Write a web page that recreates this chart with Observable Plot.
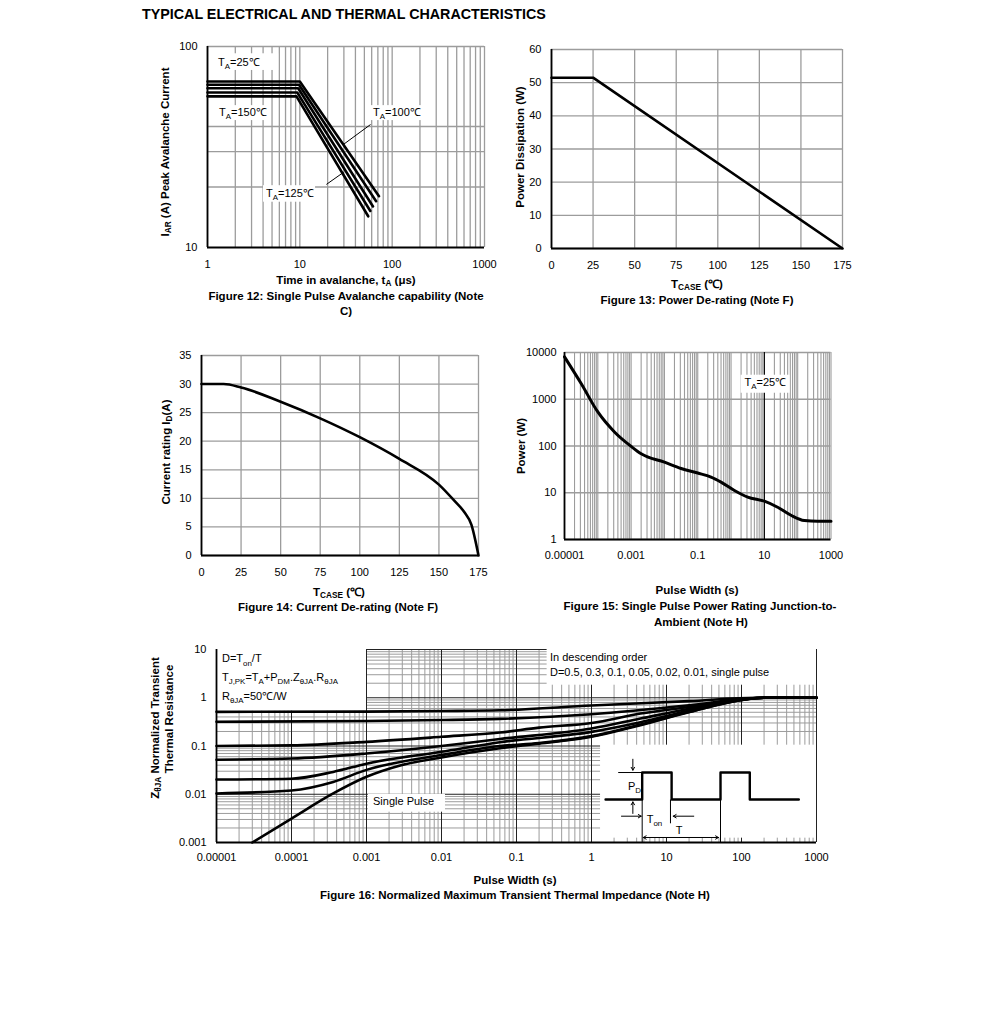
<!DOCTYPE html>
<html><head><meta charset="utf-8">
<script src="https://cdn.jsdelivr.net/npm/d3@7"></script>
<script src="https://cdn.jsdelivr.net/npm/@observablehq/plot@0.6"></script>
<style>
body{margin:0;background:#fff;}
#page{position:relative;width:991px;height:1021px;background:#fff;font-family:"Liberation Sans",Arial,Helvetica,sans-serif;color:#000;overflow:hidden;}
.abs{position:absolute;white-space:nowrap;line-height:1;}
.abs sub{font-size:0.72em;vertical-align:-0.22em;line-height:0;}
</style></head><body><div id="page"></div>
<script>
const FONT='"Liberation Sans", Arial, Helvetica, sans-serif';
const GRID="#9c9c9c";

// ---------------- Figure 12: Single pulse avalanche capability ----------------
const f12Lines=["L1","L2","L3","L4","L5"];
const f12Time=[[1,10,72],[1,9.8,67],[1,9.6,62],[1,9.4,58],[1,9.2,55]];
const f12Current=[[67,67,18],[64.5,64.5,17],[62,62,16],[59,59,15.2],[56.5,56.5,14.3]];
const f12XTicks=[1,10,100,1000];
const f12XTickLabels=["1","10","100","1000"];
const f12YTicks=[10,100];
const f12YTickLabels=["10","100"];
const f12YGrid=[20,30,40];
const f12LabelX=[1.315,1.35,62.8,4.36];
const f12LabelY=[79.6,44.9,44.9,17.7];
const f12LabelTemp=["25","150","100","125"];
const f12BoxX1=[1.124,1.124,58.3,4.04];
const f12BoxX2=[5.9,4.82,219,14.8];
const f12BoxY1=[76,42.8,42.8,16.8];
const f12BoxY2=[92,50.8,50.8,20.3];
const f12LeadX1=[58.3,19.4], f12LeadY1=[40.9,20.6], f12LeadX2=[29.5,29.9], f12LeadY2=[32.5,23.7];

// ---------------- Figure 13: Power de-rating ----------------
const f13Tcase=[0,25,175];
const f13Power=[51.5,51.5,0];
const f13XTicks=[0,25,50,75,100,125,150,175];
const f13YTicks=[0,10,20,30,40,50,60];

// ---------------- Figure 14: Current de-rating ----------------
const f14Tcase=[0,14,25,50,75,100,125,150,160,166,170.5,175];
const f14Current=[30,30,29.4,26.9,24.0,20.7,16.9,12.4,9.5,7.6,5.4,0];
const f14XTicks=[0,25,50,75,100,125,150,175];
const f14YTicks=[0,5,10,15,20,25,30,35];

// ---------------- Figure 15: Single pulse power rating ----------------
const f15Width=[1e-5,3.16e-5,1e-4,3.16e-4,1e-3,2e-3,1e-2,3.16e-2,0.1,0.25,0.5,1.26,3.16,10,25,63,158,400,1000];
const f15Power=[8070,2170,535,200,98,68,45,33,26.4,21.7,16.9,11.2,8.1,6.6,4.9,3.3,2.55,2.47,2.47];
const f15XTicks=[1e-5,1e-3,0.1,10,1000];
const f15XTickLabels=["0.00001","0.001","0.1","10","1000"];
const f15YTicks=[1,10,100,1000,10000];
const f15YTickLabels=["1","10","100","1000","10000"];

// ---------------- Figure 16: Normalized transient thermal impedance ----------------
const f16Duty=["0.5","0.3","0.1","0.05","0.02","0.01","single"];
const f16Width=[
 [1e-5,1e-3,1e-2,0.06,1,20,160,1000],
 [1e-5,1e-3,1e-2,0.06,1,20,130,200,1000],
 [1e-5,1e-4,1e-3,1e-2,0.06,0.2,1,4.5,21,100,200,1000],
 [1e-5,1e-4,1e-3,1e-2,0.06,1,4.5,21,100,200,1000],
 [1e-5,1e-4,3.6e-4,1e-3,1e-2,0.06,1,4.5,21,100,200,1000],
 [1e-5,1e-4,3.6e-4,1e-3,1e-2,0.06,0.2,1,4.5,21,100,200,1000],
 [3e-5,1e-4,3.6e-4,1e-3,2.9e-3,1e-2,0.06,0.2,1,4.5,21,100,200,1000]
];
const f16Z=[
 [0.51,0.515,0.53,0.55,0.69,0.85,1,1],
 [0.317,0.33,0.345,0.365,0.455,0.70,0.97,1,1],
 [0.1,0.103,0.122,0.155,0.19,0.24,0.3,0.47,0.65,0.92,1,1],
 [0.052,0.055,0.07,0.1,0.14,0.23,0.37,0.6,0.92,1,1],
 [0.0202,0.021,0.029,0.043,0.076,0.12,0.196,0.31,0.55,0.9,1,1],
 [0.0104,0.012,0.018,0.032,0.065,0.1,0.115,0.16,0.28,0.52,0.9,1,1],
 [0.001,0.00314,0.0104,0.023,0.04,0.058,0.09,0.112,0.155,0.27,0.51,0.9,1,1]
];
const f16XTicks=[1e-5,1e-4,1e-3,1e-2,0.1,1,10,100,1000];
const f16XTickLabels=["0.00001","0.0001","0.001","0.01","0.1","1","10","100","1000"];
const f16YTicks=[0.001,0.01,0.1,1,10];
const f16YTickLabels=["0.001","0.01","0.1","1","10"];
const f16BoxX1=[1e-5,0.256,1.06e-3,1.32], f16BoxX2=[1e-3,1000,0.0113,1000];
const f16BoxY1=[0.526,1.82,0.00425,0.00123], f16BoxY2=[10,10,0.01,0.104];
// pulse sketch (inset) in the chart's units
const f16PulseX=[1.54,4.74,4.74,11.7,11.7,52.5,52.5,129,129,581];
const f16PulseY=[0.00778,0.00778,0.0282,0.0282,0.00778,0.00778,0.0282,0.0282,0.00778,0.00778];
const f16ThinX1=[2.27,4.74,11.3,52.5], f16ThinY1=[0.0282,0.0282,0.00778,0.00778];
const f16ThinX2=[4.74,4.74,11.3,52.5], f16ThinY2=[0.0282,0.001,0.0025,0.001];
const f16ArrX1=[3.56,3.56,2.51,23.1,15,15], f16ArrY1=[0.0532,0.004,0.00351,0.00351,0.00127,0.00127];
const f16ArrX2=[3.56,3.56,4.6,12.3,4.9,49.3], f16ArrY2=[0.0315,0.00694,0.00351,0.00351,0.00127,0.00127];

// ---------------- helpers ----------------
const page=document.getElementById("page");
function logGrid(lo,hi){const out=[];const a=Math.round(Math.log10(lo)),b=Math.round(Math.log10(hi));for(let e=a;e<b;e++)for(let k=1;k<10;k++)out.push(+(k*Math.pow(10,e)).toPrecision(6));out.push(hi);return out;}
function isDecade(v){const l=Math.log10(v);return Math.abs(l-Math.round(l))<1e-9;}
function fmt(ticks,labels){const m=new Map(ticks.map((t,i)=>[t,labels[i]]));return d=>m.has(d)?m.get(d):"";}
function place(o){
  const mL=60,mT=12,mR=14,mB=30;
  const svg=Plot.plot({
    width:mL+o.fw+mR,height:mT+o.fh+mB,marginLeft:mL,marginRight:mR,marginTop:mT,marginBottom:mB,
    x:o.x,y:o.y,
    style:{fontFamily:FONT,fontSize:"11px",background:"transparent",overflow:"visible",color:"black"},
    marks:o.marks
  });
  svg.style.position="absolute";svg.style.left=(o.left-mL)+"px";svg.style.top=(o.top-mT)+"px";svg.style.maxWidth="none";
  page.appendChild(svg);
  return svg;
}
function rich(svg,items,size=11){
  const sx=svg.scale("x"),sy=svg.scale("y");
  const g=d3.select(svg).append("g").attr("font-family",FONT).attr("font-size",size).attr("fill","black");
  for(const it of items){
    const t=g.append("text").attr("x",sx.apply(it.x)).attr("y",sy.apply(it.y)).attr("text-anchor",it.anchor||"start");
    let shifted=0;
    for(const p of it.parts){
      const sub=p[1]==="sub";
      const want=sub?size*0.3:0;
      const ts=t.append("tspan").text(p[0]);
      if(want!==shifted)ts.attr("dy",want-shifted);
      if(sub)ts.attr("font-size",size*0.72);
      shifted=want;
    }
  }
}
function label(h,x,y,o={}){
  const d=document.createElement("div");d.className="abs";d.innerHTML=h;
  d.style.left=x+"px";d.style.top=y+"px";d.style.fontSize=(o.size||11.5)+"px";d.style.fontWeight=o.bold===false?"normal":"bold";
  d.style.transform=o.rot?"translate(-50%,-50%) rotate(-90deg)":(o.left?"translate(0,-50%)":"translate(-50%,-50%)");
  page.appendChild(d);
}
function series(names,xs,ys){const out=[];names.forEach((n,i)=>xs[i].forEach((x,j)=>out.push({s:n,x,y:ys[i][j]})));return out;}
function rows(cols){const keys=Object.keys(cols);return cols[keys[0]].map((_,i)=>Object.fromEntries(keys.map(k=>[k,cols[k][i]])));}

// ---------------- Figure 12 ----------------
const f12Data=series(f12Lines,f12Time,f12Current);
const p12=place({left:207,top:46,fw:277,fh:201,
  x:{type:"log",domain:[1,1000]},y:{type:"log",domain:[10,100]},
  marks:[
    Plot.ruleX(logGrid(1,1000),{stroke:GRID,strokeWidth:1.3}),
    Plot.ruleY(f12YGrid.concat([100]),{stroke:GRID,strokeWidth:1.3}),
    Plot.rect(rows({x1:f12BoxX1,x2:f12BoxX2,y1:f12BoxY1,y2:f12BoxY2}),{x1:"x1",x2:"x2",y1:"y1",y2:"y2",fill:"white"}),
    Plot.link(rows({x1:f12LeadX1,y1:f12LeadY1,x2:f12LeadX2,y2:f12LeadY2}),{x1:"x1",y1:"y1",x2:"x2",y2:"y2",stroke:"black",strokeWidth:1}),
    Plot.line(f12Data,{x:"x",y:"y",z:"s",stroke:"black",strokeWidth:2.6}),
    Plot.ruleX([1],{stroke:"black",strokeWidth:1.8}),
    Plot.ruleY([10],{stroke:"black",strokeWidth:1.8}),
    Plot.axisX({ticks:f12XTicks,tickFormat:fmt(f12XTicks,f12XTickLabels),tickSize:0,tickPadding:13,label:null}),
    Plot.axisY({ticks:f12YTicks,tickFormat:fmt(f12YTicks,f12YTickLabels),tickSize:0,tickPadding:10,label:null})
  ]});
rich(p12,f12LabelTemp.map((t,i)=>({x:f12LabelX[i],y:f12LabelY[i],parts:[["T"],["A","sub"],["="+t+"℃"]]})));
label("I<sub>AR</sub> (A) Peak Avalanche Current",166,152,{rot:true});
label("Time in avalanche, t<sub>A</sub> (μs)",346,281);
label("Figure 12: Single Pulse Avalanche capability (Note",346,297);
label("C)",346,312);

// ---------------- Figure 13 ----------------
const p13=place({left:550.5,top:49,fw:291,fh:199,
  x:{domain:[0,175]},y:{domain:[0,60]},
  marks:[
    Plot.ruleX(f13XTicks,{stroke:GRID,strokeWidth:1.3}),
    Plot.ruleY(f13YTicks,{stroke:GRID,strokeWidth:1.3}),
    Plot.line(rows({x:f13Tcase,y:f13Power}),{x:"x",y:"y",stroke:"black",strokeWidth:2.6}),
    Plot.ruleX([0],{stroke:"black",strokeWidth:1.8}),
    Plot.ruleY([0],{stroke:"black",strokeWidth:1.8}),
    Plot.axisX({ticks:f13XTicks,tickSize:0,tickPadding:13,label:null}),
    Plot.axisY({ticks:f13YTicks,tickSize:0,tickPadding:10,label:null})
  ]});
label("Power Dissipation (W)",521,147,{rot:true});
label("T<sub>CASE</sub> (℃)",697,285);
label("Figure 13: Power De-rating (Note F)",697,301);

// ---------------- Figure 14 ----------------
const p14=place({left:200.5,top:354.5,fw:277,fh:200,
  x:{domain:[0,175]},y:{domain:[0,35]},
  marks:[
    Plot.ruleX(f14XTicks,{stroke:GRID,strokeWidth:1.3}),
    Plot.ruleY(f14YTicks,{stroke:GRID,strokeWidth:1.3}),
    Plot.line(rows({x:f14Tcase,y:f14Current}),{x:"x",y:"y",stroke:"black",strokeWidth:2.6,curve:"monotone-x"}),
    Plot.ruleX([0],{stroke:"black",strokeWidth:1.8}),
    Plot.ruleY([0],{stroke:"black",strokeWidth:1.8}),
    Plot.axisX({ticks:f14XTicks,tickSize:0,tickPadding:13,label:null}),
    Plot.axisY({ticks:f14YTicks,tickSize:0,tickPadding:10,label:null})
  ]});
label("Current rating I<sub>D</sub>(A)",167,452,{rot:true});
label("T<sub>CASE</sub> (℃)",339,593);
label("Figure 14: Current De-rating (Note F)",338,608);

// ---------------- Figure 15 ----------------
const f15Grid=logGrid(1e-5,1000);
const p15=place({left:563.5,top:352,fw:266.5,fh:187,
  x:{type:"log",domain:[1e-5,1000]},y:{type:"log",domain:[1,10000]},
  marks:[
    Plot.ruleX(f15Grid,{stroke:GRID,strokeWidth:1.1}),
    Plot.ruleY(f15YTicks,{stroke:GRID,strokeWidth:1.3}),
    Plot.ruleX([10],{stroke:"black",strokeWidth:1.1}),
    Plot.rect([{x1:2.0,x2:59,y1:1344,y2:3266}],{x1:"x1",x2:"x2",y1:"y1",y2:"y2",fill:"white"}),
    Plot.line(rows({x:f15Width,y:f15Power}),{x:"x",y:"y",stroke:"black",strokeWidth:3,curve:"monotone-x"}),
    Plot.ruleX([1e-5],{stroke:"black",strokeWidth:1.8}),
    Plot.ruleY([1],{stroke:"black",strokeWidth:1.8}),
    Plot.axisX({ticks:f15XTicks,tickFormat:fmt(f15XTicks,f15XTickLabels),tickSize:0,tickPadding:12,label:null}),
    Plot.axisY({ticks:f15YTicks,tickFormat:fmt(f15YTicks,f15YTickLabels),tickSize:0,tickPadding:8,label:null})
  ]});
rich(p15,[{x:2.63,y:1900,parts:[["T"],["A","sub"],["=25℃"]]}]);
label("Power (W)",522,446,{rot:true});
label("Pulse Width (s)",697,591);
label("Figure 15: Single Pulse Power Rating Junction-to-",700,607);
label("Ambient (Note H)",701,623);

// ---------------- Figure 16 ----------------
const f16Data=series(f16Duty,f16Width,f16Z);
const f16XGrid=logGrid(1e-5,1000), f16YGrid=logGrid(0.001,10);
const p16=place({left:216,top:649,fw:600,fh:193,
  x:{type:"log",domain:[1e-5,1000]},y:{type:"log",domain:[0.001,10]},
  marks:[
    Plot.ruleX(f16XGrid.filter(v=>!isDecade(v)),{stroke:GRID,strokeWidth:1}),
    Plot.ruleY(f16YGrid.filter(v=>!isDecade(v)),{stroke:GRID,strokeWidth:1}),
    Plot.ruleX(f16XGrid.filter(isDecade),{stroke:"#222",strokeWidth:1}),
    Plot.ruleY(f16YGrid.filter(isDecade),{stroke:"#222",strokeWidth:1}),
    Plot.rect(rows({x1:f16BoxX1,x2:f16BoxX2,y1:f16BoxY1,y2:f16BoxY2}),{x1:"x1",x2:"x2",y1:"y1",y2:"y2",fill:"white"}),
    Plot.line(f16Data,{x:"x",y:"y",z:"s",stroke:"black",strokeWidth:2.6,curve:"monotone-x"}),
    Plot.line(rows({x:f16PulseX,y:f16PulseY}),{x:"x",y:"y",stroke:"black",strokeWidth:2.4}),
    Plot.link(rows({x1:f16ThinX1,y1:f16ThinY1,x2:f16ThinX2,y2:f16ThinY2}),{x1:"x1",y1:"y1",x2:"x2",y2:"y2",stroke:"black",strokeWidth:1}),
    Plot.arrow(rows({x1:f16ArrX1,y1:f16ArrY1,x2:f16ArrX2,y2:f16ArrY2}),{x1:"x1",y1:"y1",x2:"x2",y2:"y2",stroke:"black",strokeWidth:1,headLength:5}),
    Plot.ruleX([1e-5],{stroke:"black",strokeWidth:1.8}),
    Plot.ruleY([0.001],{stroke:"black",strokeWidth:1.8}),
    Plot.axisX({ticks:f16XTicks,tickFormat:fmt(f16XTicks,f16XTickLabels),tickSize:0,tickPadding:11,label:null}),
    Plot.axisY({ticks:f16YTicks,tickFormat:fmt(f16YTicks,f16YTickLabels),tickSize:0,tickPadding:10,label:null})
  ]});
rich(p16,[
  {x:1.2e-5,y:5.3,parts:[["D=T"],["on","sub"],["/T"]]},
  {x:1.2e-5,y:2.2,parts:[["T"],["J,PK","sub"],["=T"],["A","sub"],["+P"],["DM","sub"],[".Z"],["θJA","sub"],[".R"],["θJA","sub"]]},
  {x:1.2e-5,y:0.88,parts:[["R"],["θJA","sub"],["=50℃/W"]]},
  {x:0.284,y:5.6,parts:[["In descending order"]]},
  {x:0.284,y:2.8,parts:[["D=0.5, 0.3, 0.1, 0.05, 0.02, 0.01, single pulse"]]},
  {x:1.24e-3,y:0.0058,parts:[["Single Pulse"]]},
  {x:3.11,y:0.0122,parts:[["P"],["D","sub"]]},
  {x:5.53,y:0.0025,parts:[["T"],["on","sub"]]},
  {x:13.5,y:0.00149,parts:[["T"]]}
]);
label("Z<sub>θJA</sub> Normalized Transient",156,728,{rot:true});
label("Thermal Resistance",170,719,{rot:true});
label("Pulse Width (s)",515,881);
label("Figure 16: Normalized Maximum Transient Thermal Impedance (Note H)",515,896);

// ---------------- Title ----------------
label("TYPICAL ELECTRICAL AND THERMAL CHARACTERISTICS",142,14,{left:true,size:14.3});
</script></body></html>
